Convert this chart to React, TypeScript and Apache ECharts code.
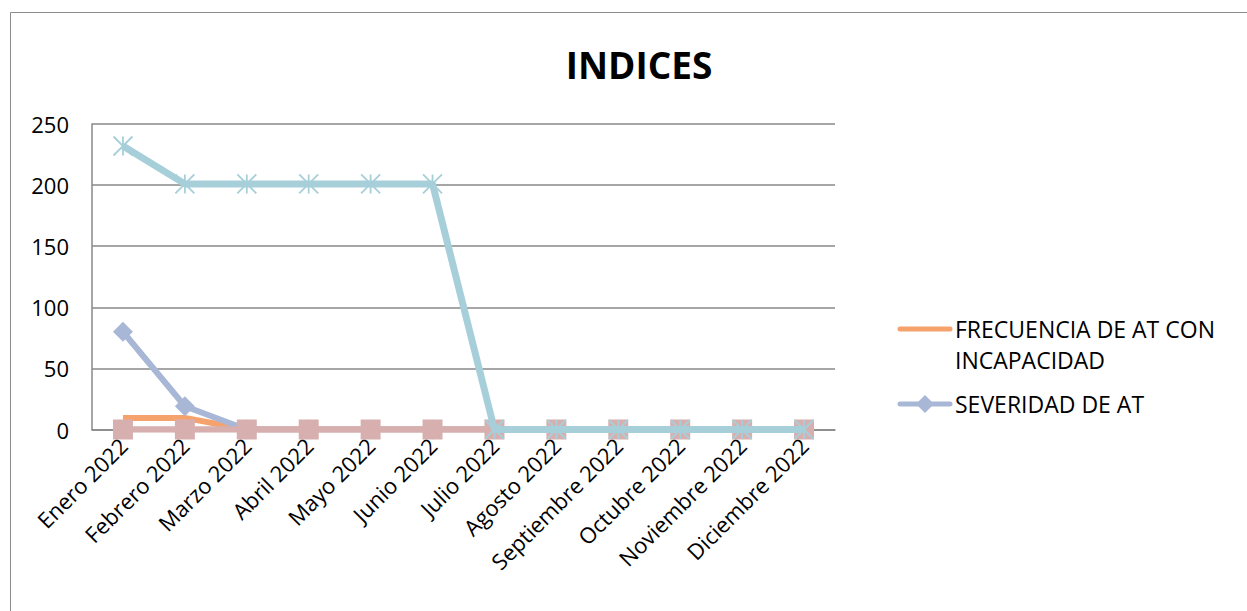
import React, { useEffect, useRef } from "react";
import * as echarts from "echarts";

const categories = [
  "Enero 2022", "Febrero 2022", "Marzo 2022", "Abril 2022", "Mayo 2022", "Junio 2022",
  "Julio 2022", "Agosto 2022", "Septiembre 2022", "Octubre 2022", "Noviembre 2022", "Diciembre 2022",
];
const frecuencia = [9.5, 9.5, 0, 0, 0, 0, 0, 0, 0, 0, 0, 0];
const severidad = [80, 19, 0, 0, 0, 0, 0, 0, 0, 0, 0, 0];
const serie3 = [0, 0, 0, 0, 0, 0, 0, 0, 0, 0, 0, 0];
const serie4 = [232, 201, 201, 201, 201, 201, 0, 0, 0, 0, 0, 0];
const yTicks = { min: 0, max: 250, interval: 50 };
const title = "INDICES";
const legendNames = ["FRECUENCIA DE AT CON INCAPACIDAD", "SEVERIDAD DE AT"];

const C_ORANGE = "#F6A26D";
const C_SEV = "#A8B7D6";
const C_PINK = "#D8AFAF";
const C_LBLUE = "#A7CFDA";
const FONT = "Open Sans";
const STAR = "path://M0,0L10,10M10,0L0,10M5,0L5,10";

export default function App() {
  const ref = useRef<HTMLDivElement>(null);
  useEffect(() => {
    if (!ref.current) return;
    const chart = echarts.init(ref.current, undefined, { renderer: "svg" });
    chart.setOption({
      animation: false,
      backgroundColor: "#ffffff",
      title: {
        text: title,
        left: 634,
        textAlign: "center",
        top: 41,
        textStyle: { fontFamily: FONT, fontWeight: "bold", fontSize: 37, color: "#000" },
      },
      grid: { left: 92, top: 124, width: 743, height: 305.5, containLabel: false },
      xAxis: {
        type: "category",
        data: categories,
        boundaryGap: true,
        axisLine: { lineStyle: { color: "#888", width: 1.5 } },
        axisTick: { show: false },
        axisLabel: {
          rotate: 45,
          margin: 12,
          interval: 0,
          color: "#000",
          fontFamily: FONT,
          fontSize: 22,
        },
      },
      yAxis: {
        type: "value",
        min: yTicks.min,
        max: yTicks.max,
        interval: yTicks.interval,
        axisLine: { show: true, lineStyle: { color: "#888", width: 1.5 } },
        axisTick: { show: false },
        splitLine: { lineStyle: { color: "#888", width: 1.5 } },
        axisLabel: { margin: 23, color: "#000", fontFamily: FONT, fontSize: 22 },
      },
      series: [
        {
          name: legendNames[0],
          type: "line",
          data: frecuencia,
          symbol: "none",
          lineStyle: { color: C_ORANGE, width: 6 },
          itemStyle: { color: C_ORANGE },
          z: 2,
        },
        {
          name: legendNames[1],
          type: "line",
          data: severidad,
          symbol: "diamond",
          symbolSize: 20,
          lineStyle: { color: C_SEV, width: 6 },
          itemStyle: { color: C_SEV },
          z: 3,
        },
        {
          name: "Serie 3",
          type: "line",
          data: serie3,
          symbol: "rect",
          symbolSize: 20,
          lineStyle: { color: C_PINK, width: 6.5 },
          itemStyle: { color: C_PINK },
          z: 4,
        },
        {
          name: "Serie 4",
          type: "line",
          data: serie4,
          symbol: STAR,
          symbolSize: 19,
          lineStyle: { color: C_LBLUE, width: 7 },
          itemStyle: { color: "none", borderColor: C_LBLUE, borderWidth: 1.8 },
          z: 5,
        },
      ],
      graphic: [
        {
          type: "rect",
          shape: { x: 10.5, y: 12.5, width: 1400, height: 800 },
          style: { fill: "none", stroke: "#8c8c8c", lineWidth: 1 },
          silent: true,
        },
        {
          type: "line",
          shape: { x1: 900, y1: 329, x2: 950, y2: 329 },
          style: { stroke: C_ORANGE, lineWidth: 5, lineCap: "round" },
        },
        {
          type: "text",
          top: 313,
          left: 955,
          style: {
            text: "FRECUENCIA DE AT CON\nINCAPACIDAD",
            fontFamily: FONT,
            fontSize: 23,
            lineHeight: 31,
            fill: "#000",
          },
        },
        {
          type: "line",
          shape: { x1: 900, y1: 404, x2: 950, y2: 404 },
          style: { stroke: C_SEV, lineWidth: 5, lineCap: "round" },
        },
        {
          type: "polygon",
          shape: { points: [[925, 395], [934, 404], [925, 413], [916, 404]] },
          style: { fill: C_SEV },
        },
        {
          type: "text",
          left: 955,
          top: 388,
          style: {
            text: legendNames[1],
            fontFamily: FONT,
            fontSize: 23,
            lineHeight: 31,
            fill: "#000",
          },
        },
      ],
    });
    return () => chart.dispose();
  }, []);
  return (
    <div
      ref={ref}
      style={{ position: "fixed", left: 0, top: 0, width: 1247, height: 611 }}
    />
  );
}
